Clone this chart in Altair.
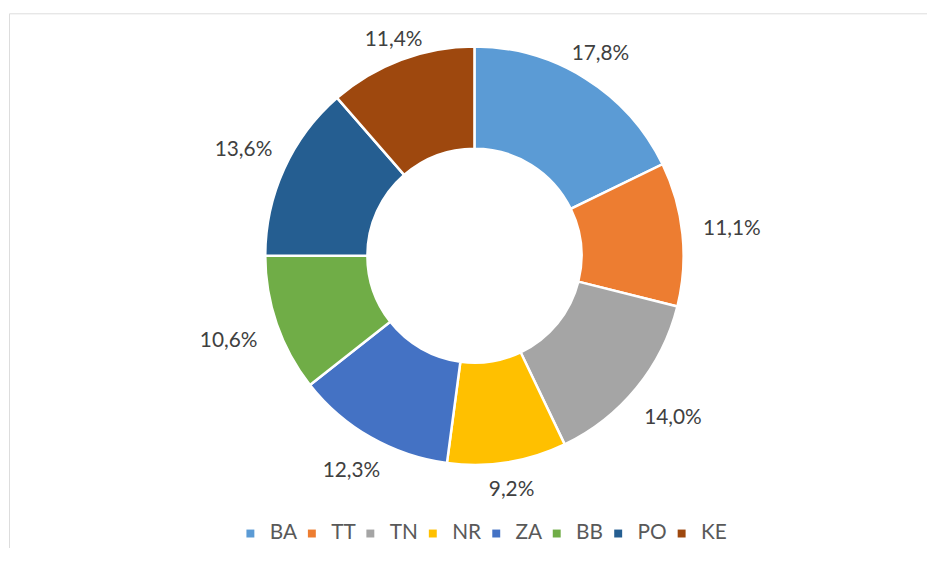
import altair as alt
import pandas as pd

categories = ["BA", "TT", "TN", "NR", "ZA", "BB", "PO", "KE"]
shares = [17.8, 11.1, 14.0, 9.2, 12.3, 10.6, 13.6, 11.4]
labels = ["17,8%", "11,1%", "14,0%", "9,2%", "12,3%", "10,6%", "13,6%", "11,4%"]
colors = ["#5B9BD5", "#ED7D31", "#A5A5A5", "#FFC000", "#4472C4", "#70AD47", "#255E91", "#9E480E"]

df = pd.DataFrame({
    "region": categories,
    "share": shares,
    "label": labels,
    "idx": list(range(len(categories))),
})

W, H = 931, 600
CX, CY = 469.5, 244.5

arcs = alt.Chart(df).mark_arc(
    innerRadius=108, outerRadius=211, stroke="white", strokeWidth=2.5
).encode(
    theta=alt.Theta("share:Q", stack=True),
    order=alt.Order("idx:Q"),
    x=alt.value(CX),
    y=alt.value(CY),
    color=alt.Color(
        "region:N",
        scale=alt.Scale(domain=categories, range=colors),
        sort=categories,
        legend=alt.Legend(
            title=None,
            orient="none",
            direction="horizontal",
            gridAlign="each",
            legendX=233,
            legendY=514,
            symbolType="square",
            symbolSize=64,
            symbolStrokeWidth=0,
            labelFont="Lato",
            labelFontSize=21,
            labelColor="#595959",
            labelOffset=9,
            columnPadding=4,
        ),
    ),
)

texts = alt.Chart(df).transform_joinaggregate(
    total="sum(share)"
).transform_window(
    cum="sum(share)", sort=[alt.SortField("idx")]
).transform_calculate(
    mid="(datum.cum - datum.share / 2) / datum.total * 2 * PI",
    r="220 + 35 * abs(sin(datum.mid)) + 14 * (1 - cos(datum.mid)) / 2",
).mark_text(
    font="Lato", fontSize=21, color="#404040", align="center", baseline="middle"
).encode(
    x=alt.value(CX),
    y=alt.value(CY),
    theta=alt.Theta("mid:Q", scale=None),
    radius=alt.Radius("r:Q", scale=None),
    text="label:N",
)

chart = alt.layer(arcs, texts).resolve_scale(
    theta="independent", radius="independent"
).properties(
    width=W, height=H,
    padding={"left": 1, "top": 3, "right": -5, "bottom": -63},
).configure_view(
    stroke="#D9D9D9", strokeWidth=1
).configure(background="white")

chart.save("out.html", embed_options={"renderer": "svg", "actions": False})
